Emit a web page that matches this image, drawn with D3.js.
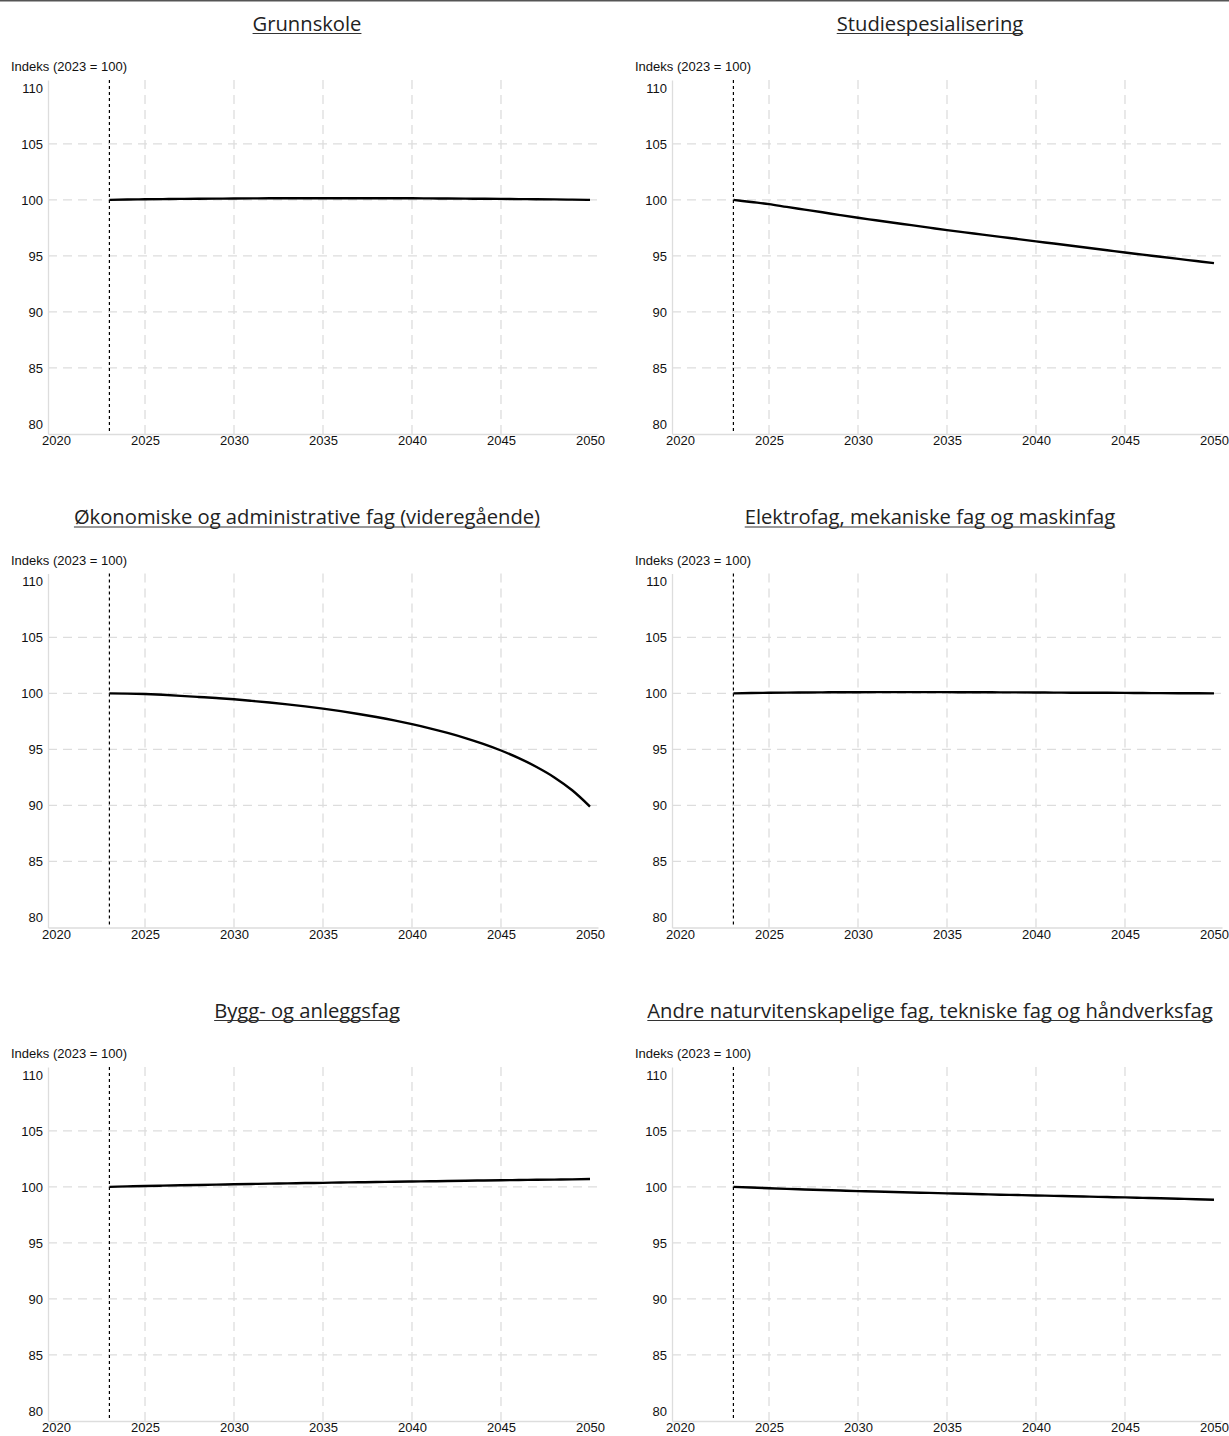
<!DOCTYPE html>
<html>
<head>
<meta charset="utf-8">
<script src="https://cdn.jsdelivr.net/npm/d3@7"></script>
<style>
  body { margin: 0; background: #fff; }
  svg { display: block; }
</style>
</head>
<body>
<div id="chart"></div>
<script>
var years = d3.range(2023, 2051);

var titles = [
	"Grunnskole",
	"Studiespesialisering",
	"Økonomiske og administrative fag (videregående)",
	"Elektrofag, mekaniske fag og maskinfag",
	"Bygg- og anleggsfag",
	"Andre naturvitenskapelige fag, tekniske fag og håndverksfag"
];

var grunnskole = [100, 100.03, 100.05, 100.07, 100.09, 100.10, 100.11, 100.12, 100.13, 100.14, 100.14, 100.15, 100.15, 100.15,
	100.15, 100.15, 100.14, 100.14, 100.13, 100.12, 100.11, 100.10, 100.09, 100.07, 100.06, 100.04, 100.02, 100.0];
var studiespes = [100, 99.81, 99.62, 99.37, 99.13, 98.89, 98.64, 98.40, 98.18, 97.96, 97.74, 97.52, 97.30, 97.10,
	96.90, 96.70, 96.50, 96.30, 96.10, 95.90, 95.70, 95.50, 95.30, 95.11, 94.92, 94.73, 94.54, 94.35];
var okonomi = [100, 99.98, 99.94, 99.87, 99.78, 99.68, 99.58, 99.47, 99.33, 99.18, 99.02, 98.84, 98.64, 98.41,
	98.16, 97.89, 97.59, 97.25, 96.88, 96.47, 96.01, 95.49, 94.90, 94.22, 93.43, 92.50, 91.35, 89.90];
var elektro = [100, 100.03, 100.05, 100.07, 100.08, 100.09, 100.10, 100.10, 100.11, 100.11, 100.11, 100.11, 100.11, 100.10,
	100.10, 100.09, 100.09, 100.08, 100.07, 100.06, 100.05, 100.05, 100.04, 100.03, 100.02, 100.01, 100.01, 100.0];
var bygg = [100, 100.04, 100.08, 100.11, 100.14, 100.17, 100.20, 100.23, 100.26, 100.29, 100.31, 100.34, 100.36, 100.39,
	100.41, 100.43, 100.46, 100.48, 100.50, 100.52, 100.55, 100.57, 100.59, 100.61, 100.63, 100.65, 100.67, 100.70];
var andre = [100, 99.94, 99.88, 99.82, 99.77, 99.72, 99.67, 99.62, 99.58, 99.54, 99.50, 99.46, 99.42, 99.38,
	99.34, 99.30, 99.27, 99.23, 99.20, 99.16, 99.13, 99.09, 99.06, 99.02, 98.98, 98.94, 98.90, 98.85];

var series = [grunnskole, studiespes, okonomi, elektro, bygg, andre];

var xTicks = [2020, 2025, 2030, 2035, 2040, 2045, 2050];
var yTicks = [80, 85, 90, 95, 100, 105, 110];
var xGrid = [2025, 2030, 2035, 2040, 2045];
var yGrid = [85, 90, 95, 100, 105];
var baseYear = 2023;
var yLabel = "Indeks (2023 = 100)";

var W = 1229, H = 1436;
var svg = d3.select("#chart").append("svg")
	.attr("width", W)
	.attr("height", H);

// top border
svg.append("line")
	.attr("x1", 0).attr("x2", W)
	.attr("y1", 0.5).attr("y2", 0.5)
	.attr("stroke", "#555")
	.attr("stroke-width", 2);

var colLeft = [48, 672];
var titleCenter = [307, 930];
var plotW = 550, plotH = 354;
var rowTop = 80, rowStep = 493.5;
var smallFont = "Liberation Sans, Arial, sans-serif";

var x = d3.scaleLinear().domain([2019.55, 2050.45]).range([0, plotW]);
var y = d3.scaleLinear().domain([79.1, 110.7]).range([plotH, 0]);

var line = d3.line()
	.curve(d3.curveMonotoneX)
	.x(function(d) { return x(d.year); })
	.y(function(d) { return y(d.value); });

series.forEach(function(values, i) {
	var col = i % 2, row = Math.floor(i / 2);
	var left = colLeft[col], top = rowTop + row * rowStep;

	// title with underline
	var t = svg.append("text")
		.attr("x", titleCenter[col])
		.attr("y", top - 49.5)
		.attr("text-anchor", "middle")
		.attr("font-family", "Open Sans")
		.attr("font-size", 20.2)
		.attr("fill", "#222")
		.text(titles[i]);
	var tw = t.node().getComputedTextLength();
	svg.append("line")
		.attr("x1", titleCenter[col] - tw / 2).attr("x2", titleCenter[col] + tw / 2)
		.attr("y1", top - 46.5).attr("y2", top - 46.5)
		.attr("stroke", "#333")
		.attr("stroke-width", 1);

	var g = svg.append("g").attr("transform", "translate(" + left + "," + top + ")");

	g.append("text")
		.attr("x", -37)
		.attr("y", -9)
		.attr("font-family", smallFont)
		.attr("font-size", 13)
		.attr("fill", "#111")
		.text(yLabel);

	// grid
	g.selectAll(".hgrid").data(yGrid).enter().append("line")
		.attr("x1", 0).attr("x2", plotW)
		.attr("y1", function(d) { return y(d); })
		.attr("y2", function(d) { return y(d); })
		.attr("stroke", "#ddd")
		.attr("stroke-width", 1.3)
		.attr("stroke-dasharray", "9,6");
	g.selectAll(".vgrid").data(xGrid).enter().append("line")
		.attr("x1", function(d) { return x(d); })
		.attr("x2", function(d) { return x(d); })
		.attr("y1", 0).attr("y2", plotH)
		.attr("stroke", "#ddd")
		.attr("stroke-width", 1.3)
		.attr("stroke-dasharray", "9,6");

	// axes
	var ax = g.append("g")
		.attr("transform", "translate(0," + plotH + ")")
		.call(d3.axisBottom(x).tickValues(xTicks).tickFormat(d3.format("d")).tickSize(0).tickPadding(2));
	var ay = g.append("g")
		.call(d3.axisLeft(y).tickValues(yTicks).tickSize(0).tickPadding(5));
	[ax, ay].forEach(function(a) {
		a.select(".domain").attr("stroke", "#ddd").attr("stroke-width", 1.3);
		a.selectAll("text")
			.attr("font-family", smallFont)
			.attr("font-size", 13)
			.attr("fill", "#111");
	});

	// base year marker
	g.append("line")
		.attr("x1", x(baseYear)).attr("x2", x(baseYear))
		.attr("y1", 0).attr("y2", plotH)
		.attr("stroke", "#000")
		.attr("stroke-width", 1.2)
		.attr("stroke-dasharray", "3,3");

	var data = years.map(function(yr, j) { return {year: yr, value: values[j]}; });
	g.append("path")
		.datum(data)
		.attr("fill", "none")
		.attr("stroke", "#000")
		.attr("stroke-width", 2.4)
		.attr("stroke-linejoin", "round")
		.attr("d", line);
});
</script>
</body>
</html>
